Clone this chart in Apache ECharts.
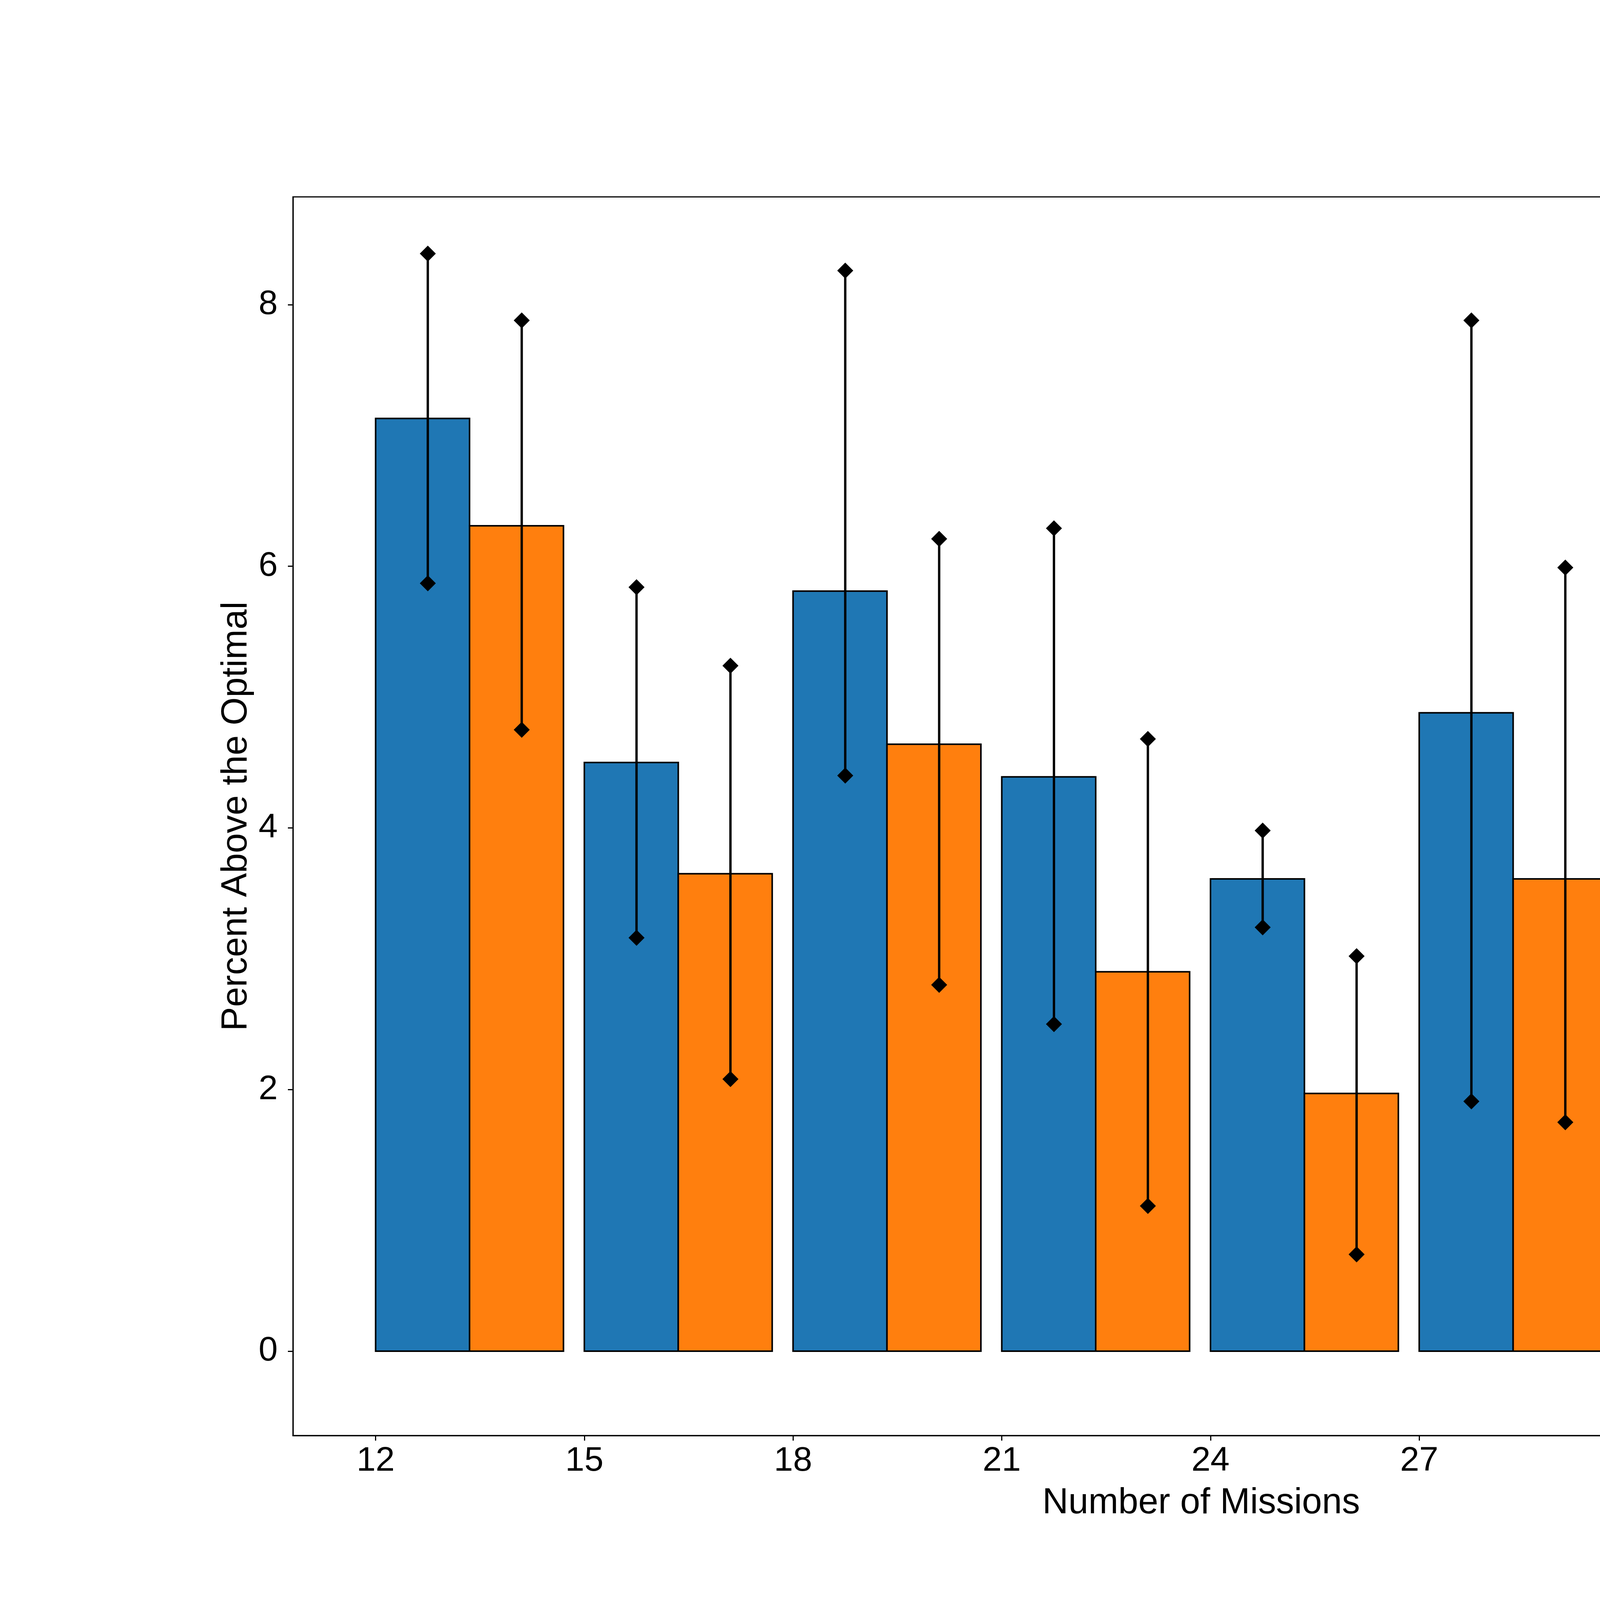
<!DOCTYPE html>
<html>
<head>
<meta charset="utf-8">
<script src="https://cdn.jsdelivr.net/npm/echarts@6/dist/echarts.min.js"></script>
<style>
html,body{margin:0;padding:0;background:#fff;overflow:hidden;}
#chart{width:6000px;height:4200px;}
</style>
</head>
<body>
<div id="chart"></div>
<script>
// ---- data ----
const missions = [12, 15, 18, 21, 24, 27, 30, 33];
const nsMean = [7.13, 4.50, 5.81, 4.39, 3.61, 4.88, 3.52, 1.95];
const tsMean = [6.31, 3.65, 4.64, 2.90, 1.97, 3.61, 1.68, 1.60];
const nsLow  = [5.87, 3.16, 4.40, 2.50, 3.24, 1.91, 1.31, 0.57];
const nsHigh = [8.39, 5.84, 8.26, 6.29, 3.98, 7.88, 5.75, 2.48];
const tsLow  = [4.75, 2.08, 2.80, 1.11, 0.74, 1.75, 0.16, -0.23];
const tsHigh = [7.88, 5.24, 6.21, 4.68, 3.02, 5.99, 3.22, 2.07];
const yTicks = [0, 2, 4, 6, 8];
const seriesNames = ['Neighbourhood Search', 'Tabu Search'];

// ---- style / layout constants ----
const BAR_W = 1.35;
const ERR_OFF = [0.75, 2.1];
const COLORS = ['#1f77b4', '#ff7f0e'];
const FONT = 'Liberation Sans';

const chart = echarts.init(document.getElementById('chart'), null, {renderer: 'canvas'});

function barRender(offsetIdx) {
  return function (params, api) {
    const x0 = api.value(0) + offsetIdx * BAR_W;
    const v = api.value(1);
    const p0 = api.coord([x0, 0]);
    const p1 = api.coord([x0 + BAR_W, v]);
    return {
      type: 'rect',
      shape: {x: p0[0], y: Math.min(p0[1], p1[1]), width: p1[0] - p0[0], height: Math.abs(p1[1] - p0[1])},
      style: {fill: COLORS[offsetIdx], stroke: '#000', lineWidth: 4}
    };
  };
}

function errRender(offsetIdx) {
  return function (params, api) {
    const x = api.value(0) + ERR_OFF[offsetIdx];
    const lo = api.coord([x, api.value(1)]);
    const hi = api.coord([x, api.value(2)]);
    const d = 20.5;
    const diamond = (c) => ({
      type: 'polygon',
      shape: {points: [[c[0], c[1] - d], [c[0] + d, c[1]], [c[0], c[1] + d], [c[0] - d, c[1]]]},
      style: {fill: '#000'}
    });
    return {
      type: 'group',
      children: [
        {type: 'line', shape: {x1: lo[0], y1: lo[1], x2: hi[0], y2: hi[1]}, style: {stroke: '#000', lineWidth: 6}},
        diamond(lo), diamond(hi)
      ]
    };
  };
}

const option = {
  backgroundColor: '#fff',
  animation: false,
  textStyle: {fontFamily: FONT},
  grid: {left: 750, right: 600, top: 504, bottom: 525, show: true, borderColor: '#000', borderWidth: 3, backgroundColor: 'transparent'},
  legend: {
    orient: 'vertical',
    left: 4102, top: 545,
    padding: [37, 38, 49, 32],
    itemWidth: 170, itemHeight: 62, itemGap: 60,
    borderColor: '#cfcfcf', borderWidth: 4, borderRadius: 17,
    backgroundColor: 'rgba(255,255,255,0.8)',
    textStyle: {fontSize: 92, color: '#000', fontFamily: FONT, padding: [0, 0, 0, 66]},
    data: seriesNames.map((n, i) => ({name: n, icon: 'rect', itemStyle: {color: COLORS[i], borderColor: '#000', borderWidth: 4}}))
  },
  xAxis: {
    type: 'value', min: 10.812, max: 36.92,
    name: 'Number of Missions', nameLocation: 'middle', nameGap: 128,
    nameTextStyle: {fontSize: 92, color: '#000', fontFamily: FONT},
    axisLine: {show: true, onZero: false, lineStyle: {color: '#000', width: 3}},
    axisTick: {show: true, length: 13, lineStyle: {color: '#000', width: 3}, customValues: missions},
    axisLabel: {show: true, fontSize: 88, color: '#000', fontFamily: FONT, margin: 22, customValues: missions},
    splitLine: {show: false}
  },
  yAxis: {
    type: 'value', min: -0.645, max: 8.824,
    name: 'Percent Above the Optimal', nameLocation: 'middle', nameGap: 88,
    nameTextStyle: {fontSize: 92, color: '#000', fontFamily: FONT},
    axisLine: {show: true, onZero: false, lineStyle: {color: '#000', width: 3}},
    axisTick: {show: true, length: 13, lineStyle: {color: '#000', width: 3}, customValues: yTicks},
    axisLabel: {show: true, fontSize: 88, color: '#000', fontFamily: FONT, margin: 39, customValues: yTicks},
    splitLine: {show: false}
  },
  series: [
    {name: seriesNames[0], type: 'custom', renderItem: barRender(0), itemStyle: {color: COLORS[0]},
     encode: {x: 0, y: 1}, data: missions.map((m, i) => [m, nsMean[i]]), z: 2},
    {name: seriesNames[1], type: 'custom', renderItem: barRender(1), itemStyle: {color: COLORS[1]},
     encode: {x: 0, y: 1}, data: missions.map((m, i) => [m, tsMean[i]]), z: 2},
    {type: 'custom', renderItem: errRender(0), encode: {x: 0, y: [1, 2]},
     data: missions.map((m, i) => [m, nsLow[i], nsHigh[i]]), z: 3},
    {type: 'custom', renderItem: errRender(1), encode: {x: 0, y: [1, 2]},
     data: missions.map((m, i) => [m, tsLow[i], tsHigh[i]]), z: 3}
  ]
};
chart.setOption(option);
</script>
</body>
</html>
